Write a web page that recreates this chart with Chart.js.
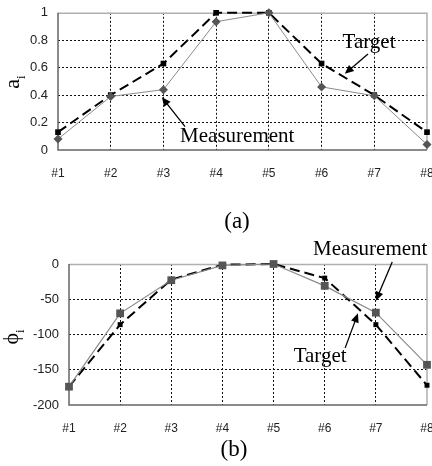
<!DOCTYPE html>
<html>
<head>
<meta charset="utf-8">
<script src="https://cdn.jsdelivr.net/npm/chart.js@4/dist/chart.umd.min.js"></script>
<style>
    html, body { margin: 0; padding: 0; background: #fff; overflow: hidden; width: 432px; height: 466px; }
    .box { position: absolute; left: 0; width: 440px; }
    .box canvas { display: block; }
    .cap { position: absolute; font-family: "Liberation Serif", serif; font-size: 23px; color: #000; transform: translate(-50%, -50%); }
    .ytitle { position: absolute; font-family: "Liberation Serif", serif; font-size: 22px; color: #000; transform: translate(-50%, -50%) rotate(-90deg); white-space: nowrap; }
    .ytitle sub { font-size: 13px; }
</style>
</head>
<body>
<div class="box" style="top:-5px;height:190px"><canvas id="chartA" width="440" height="190"></canvas></div>
<div class="box" style="top:230px;height:210px"><canvas id="chartB" width="440" height="210"></canvas></div>
<div class="ytitle" style="left:14px;top:82px">a<sub>i</sub></div>
<div class="ytitle" style="left:13px;top:337px">&#981;<sub>i</sub></div>
<div class="cap" style="left:237px;top:221px">(a)</div>
<div class="cap" style="left:234px;top:449px">(b)</div>
<script>
const categories = ['#1', '#2', '#3', '#4', '#5', '#6', '#7', '#8'];

// (a) amplitude
const ampTarget = [0.13, 0.40, 0.63, 1.0, 1.0, 0.63, 0.40, 0.13];
const ampMeasured = [0.08, 0.39, 0.44, 0.935, 1.0, 0.46, 0.395, 0.04];
const ampTicks = [0, 0.2, 0.4, 0.6, 0.8, 1];

// (b) phase
const phaseTarget = [-174, -86, -22, -1, 0, -20, -86, -172];
const phaseMeasured = [-174, -70, -23, -2, 0, -31, -69, -143];
const phaseTicks = [-200, -150, -100, -50, 0];

// annotation text + arrow, in data units (x = category index)
const notesA = [
    { text: 'Target', x: 5.9, y: 0.78, from: [5.88, 0.70], to: [5.44, 0.555] },
    { text: 'Measurement', x: 3.4, y: 0.095, from: [2.41, 0.17], to: [1.97, 0.385] }
];
const notesB = [
    { text: 'Measurement', x: 5.89, y: 20, from: [6.32, 3], to: [6.0, -52] },
    { text: 'Target', x: 4.91, y: -131, from: [5.40, -119], to: [5.65, -70] }
];

const serif = '21px "Liberation Serif", serif';

const framePlugin = {
    id: 'frame',
    beforeDatasetsDraw(chart) {
        const a = chart.chartArea;
        const ctx = chart.ctx;
        ctx.save();
        ctx.strokeStyle = '#b0b0b0';
        ctx.lineWidth = 1.5;
        ctx.beginPath();
        ctx.moveTo(a.left, a.top + 0.5);
        ctx.lineTo(a.right, a.top + 0.5);
        ctx.lineTo(a.right, a.bottom);
        ctx.stroke();
        ctx.strokeStyle = '#666';
        ctx.lineWidth = 1.5;
        ctx.beginPath();
        ctx.moveTo(a.left, a.top);
        ctx.lineTo(a.left, a.bottom);
        ctx.lineTo(a.right, a.bottom);
        ctx.stroke();
        ctx.restore();
    },
    afterDraw(chart) {
        const notes = chart.options.plugins.frame.notes || [];
        const xs = chart.scales.x, ys = chart.scales.y;
        const ctx = chart.ctx;
        ctx.save();
        notes.forEach(n => {
            ctx.font = serif;
            ctx.fillStyle = '#000';
            ctx.textAlign = 'center';
            ctx.textBaseline = 'middle';
            ctx.fillText(n.text, xs.getPixelForValue(n.x), ys.getPixelForValue(n.y));

            const x1 = xs.getPixelForValue(n.from[0]), y1 = ys.getPixelForValue(n.from[1]);
            const x2 = xs.getPixelForValue(n.to[0]), y2 = ys.getPixelForValue(n.to[1]);
            const ang = Math.atan2(y2 - y1, x2 - x1);
            const head = 9, wid = 4;
            ctx.strokeStyle = '#000';
            ctx.lineWidth = 1.3;
            ctx.beginPath();
            ctx.moveTo(x1, y1);
            ctx.lineTo(x2 - Math.cos(ang) * head * 0.8, y2 - Math.sin(ang) * head * 0.8);
            ctx.stroke();
            ctx.beginPath();
            ctx.moveTo(x2, y2);
            ctx.lineTo(x2 - Math.cos(ang) * head - Math.sin(ang) * wid, y2 - Math.sin(ang) * head + Math.cos(ang) * wid);
            ctx.lineTo(x2 - Math.cos(ang) * head + Math.sin(ang) * wid, y2 - Math.sin(ang) * head - Math.cos(ang) * wid);
            ctx.closePath();
            ctx.fill();
        });
        ctx.restore();
    }
};

const gridColor = (ctx) => {
    const n = ctx.scale.ticks.length;
    if (ctx.index === 0 || ctx.index === n - 1) return 'rgba(0,0,0,0)';
    return '#111';
};

const makeChart = (id, cfg) => {
    const el = document.getElementById(id);
    return new Chart(el.getContext('2d'), {
        type: 'line',
        data: {
            labels: categories,
            datasets: [
                {
                    label: 'Measurement',
                    data: cfg.measured,
                    borderColor: '#8a8a8a',
                    borderWidth: cfg.mWidth,
                    pointStyle: cfg.mStyle,
                    pointRadius: cfg.mRadius,
                    pointBackgroundColor: '#555',
                    pointBorderColor: '#555',
                    pointBorderWidth: 0,
                    tension: 0,
                    clip: false,
                    order: 1
                },
                {
                    label: 'Target',
                    data: cfg.target,
                    borderColor: '#000',
                    borderWidth: 2,
                    borderDash: [10, 5],
                    pointStyle: 'rect',
                    pointRadius: cfg.tRadius,
                    pointBackgroundColor: '#000',
                    pointBorderColor: '#000',
                    pointBorderWidth: 0,
                    tension: 0,
                    clip: false,
                    order: 2
                }
            ]
        },
        options: {
            responsive: false,
            animation: false,
            events: [],
            layout: { padding: { top: cfg.padTop, right: 13, left: 0, bottom: 0 } },
            plugins: {
                legend: { display: false },
                tooltip: { enabled: false },
                frame: { notes: cfg.notes }
            },
            scales: {
                x: {
                    offset: false,
                    afterFit: (axis) => {
                        axis.height = cfg.xHeight;
                        axis.paddingLeft = 0;
                        axis.paddingRight = 0;
                    },
                    grid: { color: gridColor, lineWidth: 1, drawTicks: false },
                    border: { display: false, dash: [2, 2] },
                    ticks: { padding: 16, color: '#222', font: { family: '"Liberation Sans", sans-serif', size: 12 }, maxRotation: 0 }
                },
                y: {
                    min: cfg.ticks[0],
                    max: cfg.ticks[cfg.ticks.length - 1],
                    afterFit: (axis) => { axis.width = cfg.yWidth; },
                    afterBuildTicks: (axis) => { axis.ticks = cfg.ticks.map(v => ({ value: v })); },
                    grid: { color: gridColor, lineWidth: 1, drawTicks: false },
                    border: { display: false, dash: [2, 2] },
                    ticks: {
                        padding: 10, color: '#222',
                        font: { family: '"Liberation Sans", sans-serif', size: 13 },
                        callback: (v) => String(Number(v.toFixed(2)))
                    }
                }
            }
        },
        plugins: [framePlugin]
    });
};

makeChart('chartA', {
    measured: ampMeasured, target: ampTarget, ticks: ampTicks, notes: notesA,
    mStyle: 'rectRot', mRadius: 4.5, mWidth: 1, tRadius: 4,
    padTop: 17, xHeight: 35, yWidth: 58
});

makeChart('chartB', {
    measured: phaseMeasured, target: phaseTarget, ticks: phaseTicks, notes: notesB,
    mStyle: 'rect', mRadius: 5.5, mWidth: 1.2, tRadius: 3.5,
    padTop: 34, xHeight: 35, yWidth: 69
});
</script>
</body>
</html>
